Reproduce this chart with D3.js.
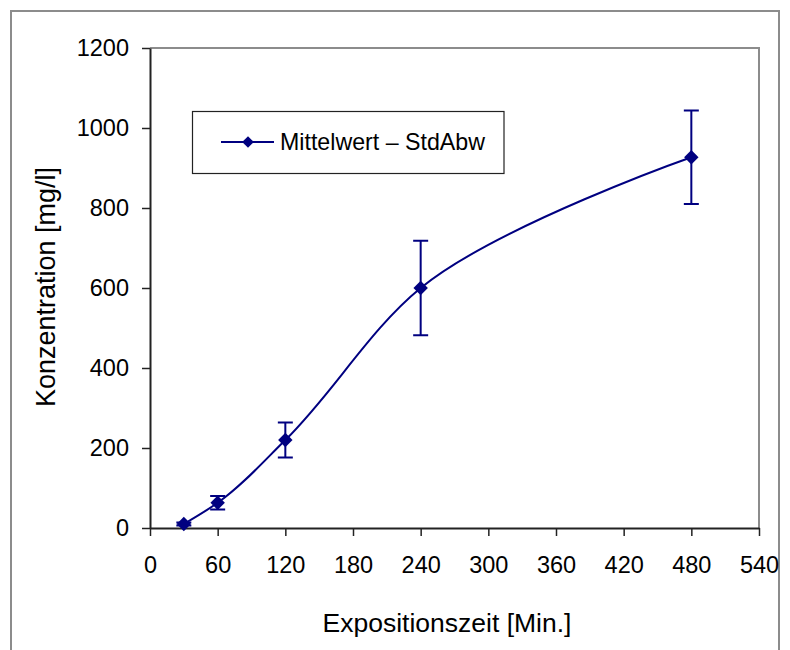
<!DOCTYPE html>
<html><head><meta charset="utf-8">
<script src="https://cdn.jsdelivr.net/npm/d3@7"></script>
<style>body{margin:0;background:#fff}svg{display:block}text{font-family:"Liberation Sans",Arial,sans-serif;fill:#000}</style>
</head><body>
<svg id="c" width="790" height="650"></svg>
<script>
const times = [30, 60, 120, 240, 480];
const means = [10, 63, 220, 600, 927];
const stdDevs = [4, 17, 44, 118, 117];
const xTicks = [0, 60, 120, 180, 240, 300, 360, 420, 480, 540];
const yTicks = [0, 200, 400, 600, 800, 1000, 1200];
const seriesName = "Mittelwert – StdAbw";
const xTitle = "Expositionszeit [Min.]";
const yTitle = "Konzentration [mg/l]";

const navy = "#000080";
const svg = d3.select("#c");
svg.append("rect").attr("x",11).attr("y",11).attr("width",768).attr("height",660)
  .attr("fill","#fff").attr("stroke","#8c8c8c").attr("stroke-width",2);

const L=150,R=759,T=48,B=528;
const x = d3.scaleLinear().domain([0,540]).range([L,R]);
const y = d3.scaleLinear().domain([0,1200]).range([B,T]);

svg.append("path").attr("d",`M${L},${T}H${R}V${B}`).attr("fill","none")
  .attr("stroke","#8c8c8c").attr("stroke-width",2);

const xa = svg.append("g").attr("transform",`translate(0,${B})`)
  .call(d3.axisBottom(x).tickValues(xTicks).tickFormat(d3.format("d")).tickSize(8).tickSizeOuter(0).tickPadding(10));
const ya = svg.append("g").attr("transform",`translate(${L},0)`)
  .call(d3.axisLeft(y).tickValues(yTicks).tickFormat(d3.format("d")).tickSize(8).tickSizeOuter(0).tickPadding(13));
[xa,ya].forEach(a=>{
  a.select(".domain").attr("stroke","#222").attr("stroke-width",2);
  a.selectAll(".tick line").attr("stroke","#222").attr("stroke-width",1.5);
  a.selectAll(".tick text").attr("font-size",23.5).attr("font-family",'"Liberation Sans",Arial,sans-serif').attr("fill","#000");
});
xa.selectAll(".tick text").attr("dy","0.71em").attr("y",28);

svg.append("text").attr("x",447).attr("y",632).attr("text-anchor","middle").attr("font-size",26.5).text(xTitle);
svg.append("text").attr("transform","translate(55,287) rotate(-90)").attr("text-anchor","middle").attr("font-size",27).text(yTitle);

const pts = times.map((t,i)=>({t, m:means[i], s:stdDevs[i]}));

svg.append("path").datum(pts)
  .attr("d", d3.line().x(d=>x(d.t)).y(d=>y(d.m)).curve(d3.curveCatmullRom.alpha(1)))
  .attr("fill","none").attr("stroke",navy).attr("stroke-width",2);

const eb = svg.append("g").attr("stroke",navy).attr("stroke-width",2).attr("fill","none");
pts.forEach(d=>{
  const cx=x(d.t), y1=y(d.m+d.s), y2=y(d.m-d.s);
  eb.append("path").attr("d",`M${cx},${y1}V${y2}M${cx-7.5},${y1}H${cx+7.5}M${cx-7.5},${y2}H${cx+7.5}`);
});

const dia = (cx,cy,r)=>`M${cx},${cy-r}L${cx+r},${cy}L${cx},${cy+r}L${cx-r},${cy}Z`;
svg.append("g").selectAll("path").data(pts).join("path")
  .attr("d",d=>dia(x(d.t),y(d.m),7.2)).attr("fill",navy);

svg.append("rect").attr("x",192.5).attr("y",111.5).attr("width",311.5).attr("height",62)
  .attr("fill","#fff").attr("stroke","#222").attr("stroke-width",1.2);
svg.append("line").attr("x1",221).attr("x2",274).attr("y1",142).attr("y2",142).attr("stroke",navy).attr("stroke-width",2);
svg.append("path").attr("d",dia(248,142,5.8)).attr("fill",navy);
svg.append("text").attr("x",280).attr("y",150).attr("font-size",23.2).text(seriesName);
</script>
</body></html>
